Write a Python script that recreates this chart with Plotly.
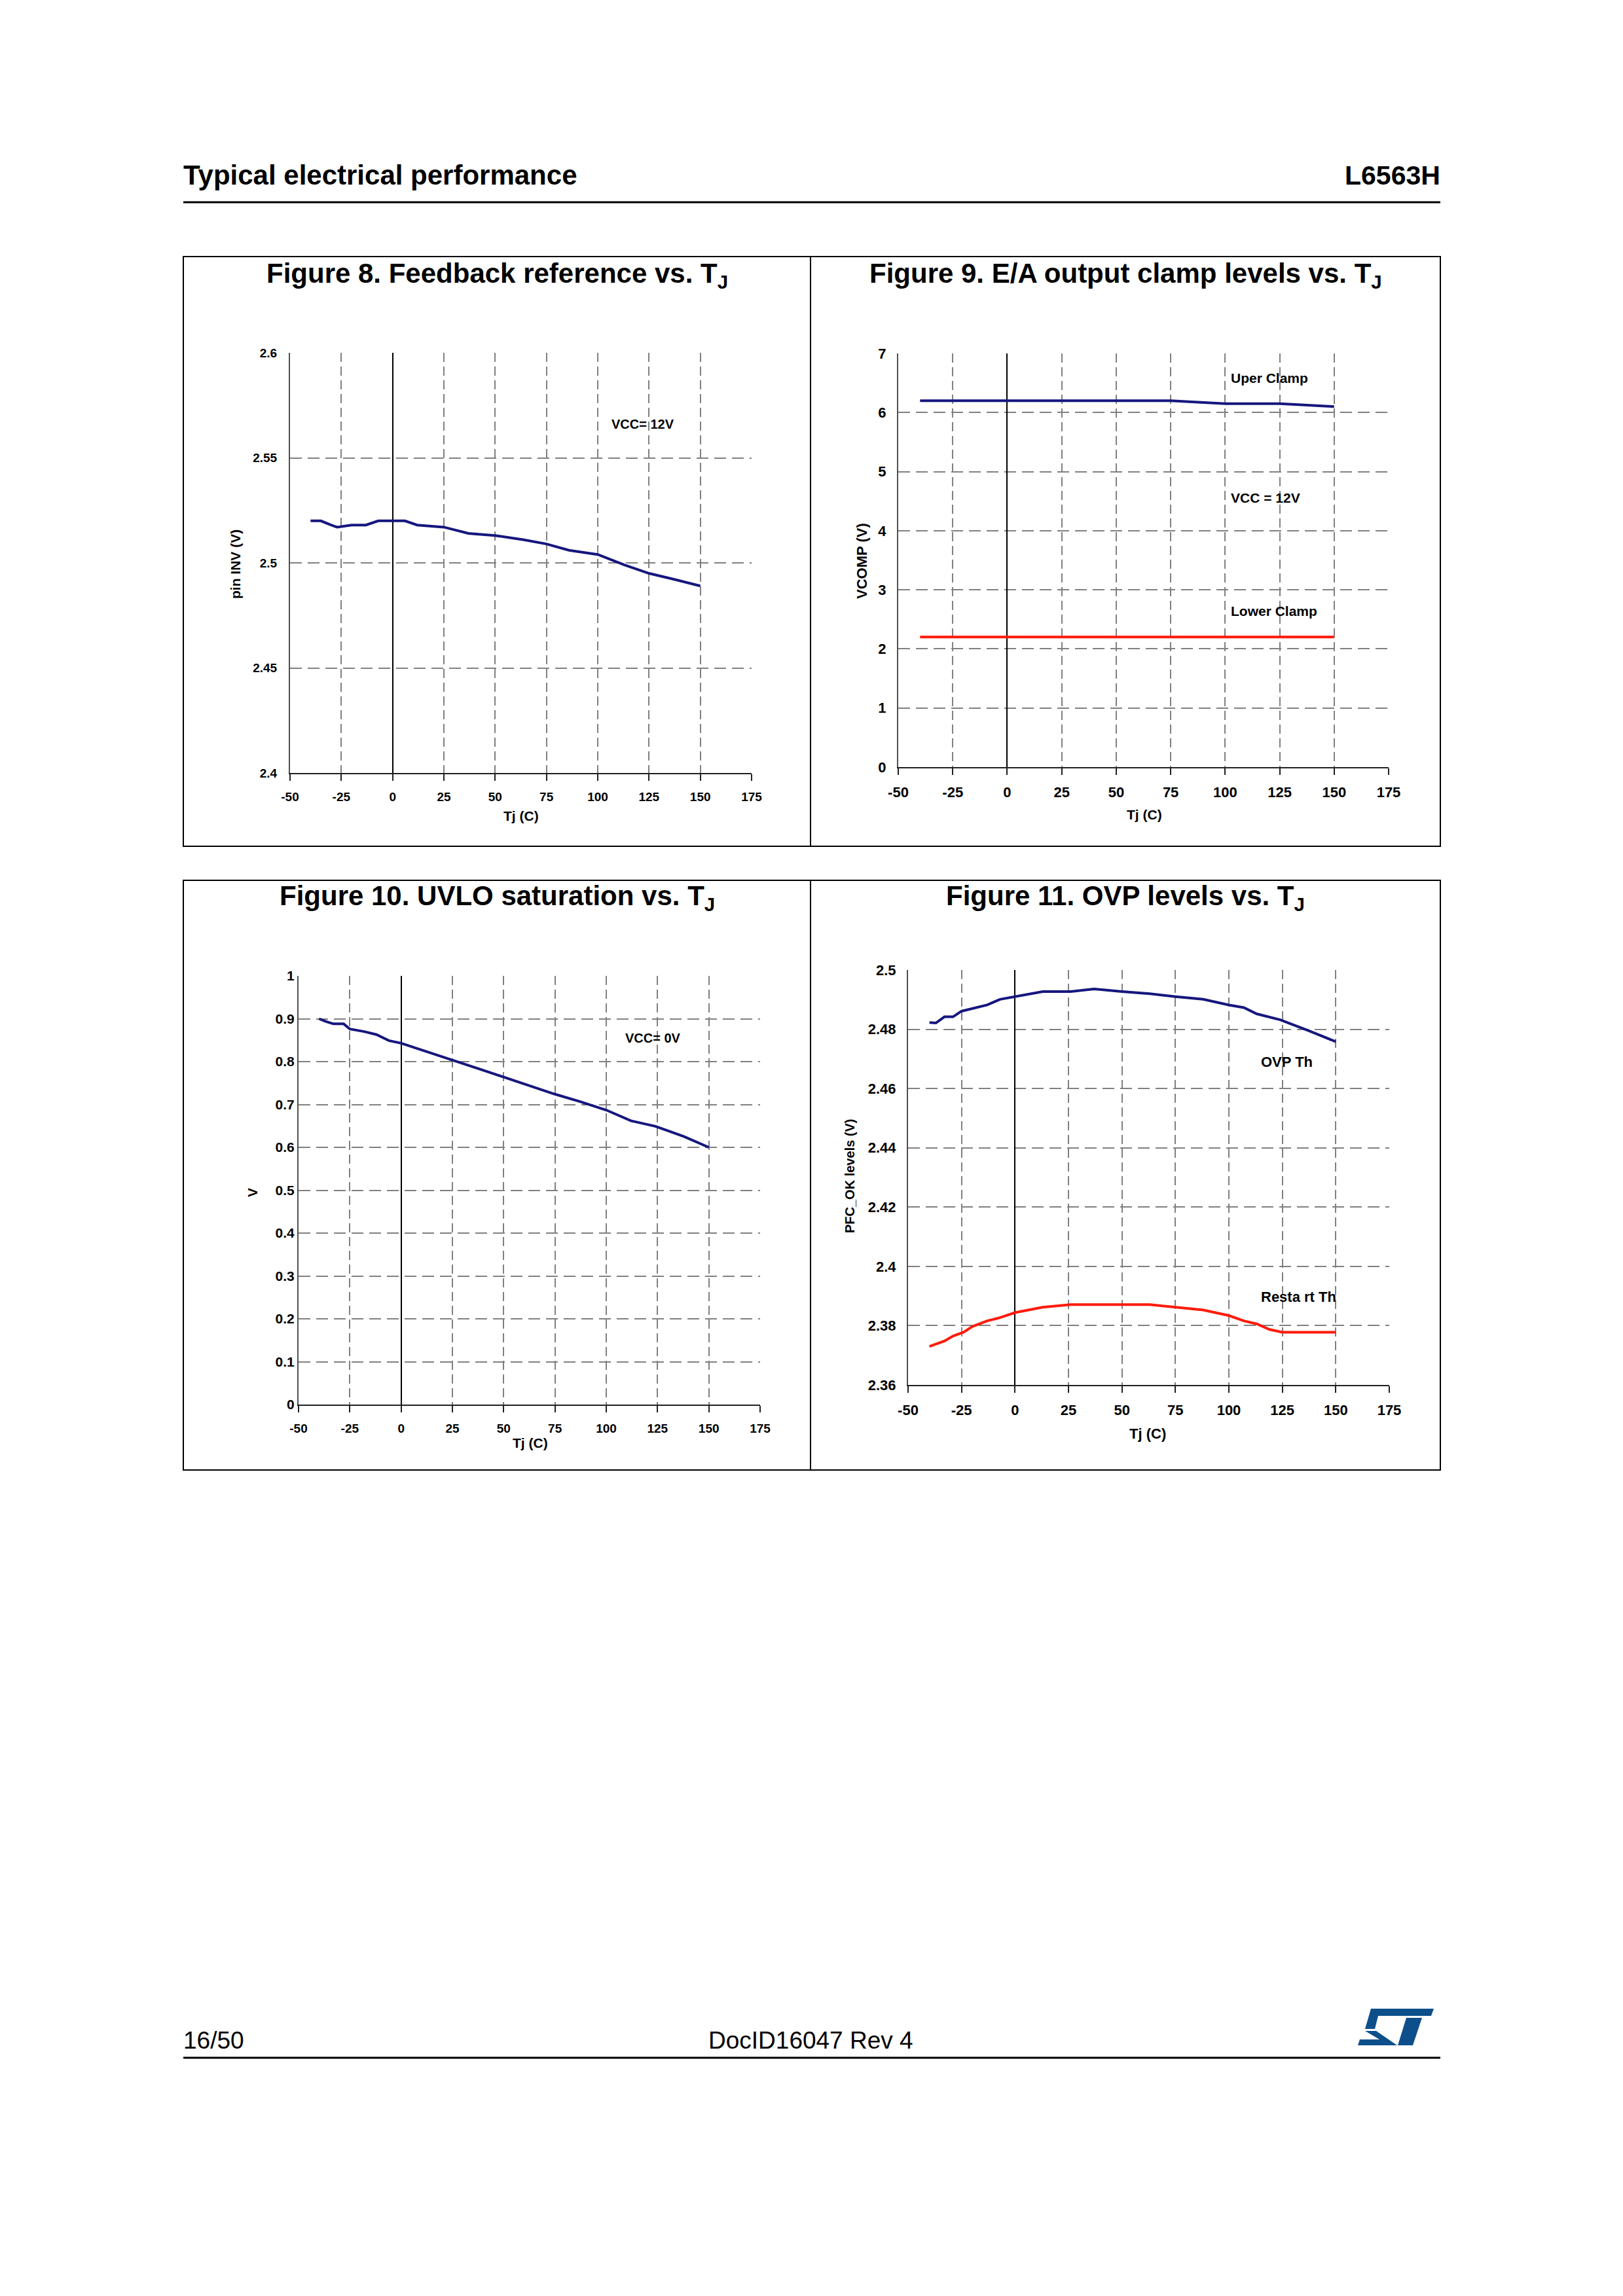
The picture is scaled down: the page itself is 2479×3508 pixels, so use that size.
import plotly.graph_objects as go

W, H = 2479, 3508
OFF = 8  # page body margin of the html page, compensated in all placements

# ---------------- data ----------------
tj8 = [-40, -35, -30, -27, -20, -13, -7, 0, 6, 12, 25, 37, 50, 64, 75, 86, 100, 113, 125, 138, 150]
vinv8 = [2.520, 2.520, 2.518, 2.517, 2.518, 2.518, 2.520, 2.520, 2.520, 2.518, 2.517, 2.514,
         2.513, 2.511, 2.509, 2.506, 2.504, 2.499, 2.495, 2.492, 2.489]

tj9 = [-40, -25, 0, 25, 50, 75, 100, 125, 150]
upper9 = [6.20, 6.20, 6.20, 6.20, 6.20, 6.20, 6.15, 6.15, 6.10]
lower9 = [2.20, 2.20, 2.20, 2.20, 2.20, 2.20, 2.20, 2.20, 2.20]

tj10 = [-40, -37, -33, -28, -25, -18, -12, -6, 0, 11, 25, 38, 50, 64, 75, 87, 100, 112, 124, 138, 150]
uvlo10 = [0.900, 0.894, 0.888, 0.888, 0.876, 0.870, 0.863, 0.849, 0.843, 0.826, 0.804, 0.783,
          0.764, 0.742, 0.724, 0.707, 0.687, 0.662, 0.649, 0.625, 0.600]

tj11_ovp = [-40, -37, -33, -29, -25, -20, -13, -7, 0, 13, 26, 37, 50, 63, 75, 88, 100, 107, 113, 124, 137, 150]
ovp11 = [2.4823, 2.4821, 2.4842, 2.4842, 2.4861, 2.4870, 2.4882, 2.4901, 2.4910, 2.4927, 2.4927,
         2.4936, 2.4927, 2.4920, 2.4910, 2.4901, 2.4882, 2.4873, 2.4852, 2.4832, 2.4796, 2.4758]
tj11_rst = [-40, -33, -29, -24, -20, -13, -7, 0, 13, 26, 63, 75, 88, 100, 107, 113, 119, 125, 150]
rst11 = [2.3730, 2.3748, 2.3765, 2.3778, 2.3797, 2.3816, 2.3827, 2.3844, 2.3862, 2.3871, 2.3871,
         2.3862, 2.3853, 2.3834, 2.3816, 2.3806, 2.3787, 2.3778, 2.3778]

x_ticks = [-50, -25, 0, 25, 50, 75, 100, 125, 150, 175]
x_ticktext = ["-50", "-25", "0", "25", "50", "75", "100", "125", "150", "175"]
y8_ticks = [2.4, 2.45, 2.5, 2.55, 2.6]
y8_text = ["2.4", "2.45", "2.5", "2.55", "2.6"]
y9_ticks = [0, 1, 2, 3, 4, 5, 6, 7]
y9_text = ["0", "1", "2", "3", "4", "5", "6", "7"]
y10_ticks = [0, 0.1, 0.2, 0.3, 0.4, 0.5, 0.6, 0.7, 0.8, 0.9, 1.0]
y10_text = ["0", "0.1", "0.2", "0.3", "0.4", "0.5", "0.6", "0.7", "0.8", "0.9", "1"]
y11_ticks = [2.36, 2.38, 2.40, 2.42, 2.44, 2.46, 2.48, 2.50]
y11_text = ["2.36", "2.38", "2.4", "2.42", "2.44", "2.46", "2.48", "2.5"]

NAVY = "#16167e"
RED = "#ff1a0a"
FONT = "Liberation Sans"


def px(x):
    return (x - OFF) / W


def py(y):
    return 1 - (y - OFF) / H


fig = go.Figure()

fig.add_trace(go.Scatter(x=tj8, y=vinv8, mode="lines", line=dict(color=NAVY, width=4),
                         xaxis="x", yaxis="y", showlegend=False))
fig.add_trace(go.Scatter(x=tj9, y=upper9, mode="lines", line=dict(color=NAVY, width=4),
                         xaxis="x2", yaxis="y2", showlegend=False))
fig.add_trace(go.Scatter(x=tj9, y=lower9, mode="lines", line=dict(color=RED, width=4),
                         xaxis="x2", yaxis="y2", showlegend=False))
fig.add_trace(go.Scatter(x=tj10, y=uvlo10, mode="lines", line=dict(color=NAVY, width=4),
                         xaxis="x3", yaxis="y3", showlegend=False))
fig.add_trace(go.Scatter(x=tj11_ovp, y=ovp11, mode="lines", line=dict(color=NAVY, width=4),
                         xaxis="x4", yaxis="y4", showlegend=False))
fig.add_trace(go.Scatter(x=tj11_rst, y=rst11, mode="lines", line=dict(color=RED, width=4),
                         xaxis="x4", yaxis="y4", showlegend=False))


def xaxis(dom, anchor, fs):
    return dict(domain=[px(dom[0]), px(dom[1])], anchor=anchor, range=[-50, 175],
                tickmode="array", tickvals=x_ticks, ticktext=x_ticktext,
                showline=True, linecolor="#202020", linewidth=2,
                showgrid=True, gridcolor="#808080", gridwidth=2, griddash="14px,7px",
                zeroline=True, zerolinecolor="#000000", zerolinewidth=1.5,
                ticks="outside", ticklen=10, tickwidth=2, tickcolor="#202020",
                ticklabelstandoff=8, automargin=False,
                tickfont=dict(family=FONT, size=fs, color="#000000", weight="bold"))


def yaxis(dom, anchor, rng, tv, tt, fs, standoff=13):
    return dict(domain=[py(dom[1]), py(dom[0])], anchor=anchor, range=rng,
                tickmode="array", tickvals=tv, ticktext=tt,
                showline=True, linecolor="#505050", linewidth=2,
                showgrid=True, gridcolor="#808080", gridwidth=2, griddash="18px,9px",
                zeroline=False, ticks="",
                ticklabelstandoff=standoff, automargin=False,
                tickfont=dict(family=FONT, size=fs, color="#000000", weight="bold"))


# plot-area pixel boxes: (left, right), (top, bottom)
fig.update_layout(
    xaxis=xaxis((443, 1148), "y", 19),
    yaxis=yaxis((539, 1181), "x", [2.4, 2.6], y8_ticks, y8_text, 19, standoff=14),
    xaxis2=xaxis((1372, 2121), "y2", 22),
    yaxis2=yaxis((540, 1172), "x2", [0, 7], y9_ticks, y9_text, 22, standoff=12),
    xaxis3=xaxis((456, 1161), "y3", 19),
    yaxis3=yaxis((1491, 2146), "x3", [0, 1], y10_ticks, y10_text, 21, standoff=0),
    xaxis4=xaxis((1387, 2122), "y4", 22),
    yaxis4=yaxis((1482, 2116), "x4", [2.36, 2.5], y11_ticks, y11_text, 22, standoff=12),
)

ann = []


def text(x, y, s, size, bold=True, xanchor="center", angle=0, xref="paper", yref="paper"):
    ann.append(dict(x=x, y=y, xref=xref, yref=yref, text=s, showarrow=False,
                    xanchor=xanchor, yanchor="middle", textangle=angle,
                    font=dict(family=FONT, size=size, color="#000000",
                              weight="bold" if bold else "normal")))


# page header / footer
text(px(278), py(268), "Typical electrical performance", 42, xanchor="left")
text(px(2202), py(268), "L6563H", 41, xanchor="right")
text(px(278), py(3117), "16/50", 37, bold=False, xanchor="left")
text(px(1238), py(3117), "DocID16047 Rev 4", 37, bold=False)

# figure titles
text(px(759), py(420), "Figure 8. Feedback reference vs. T<sub>J</sub>", 42)
text(px(1719), py(420), "Figure 9. E/A output clamp levels vs. T<sub>J</sub>", 42)
text(px(759), py(1371), "Figure 10. UVLO saturation vs. T<sub>J</sub>", 42)
text(px(1719), py(1371), "Figure 11. OVP levels vs. T<sub>J</sub>", 42)

# axis titles
text(px(359), py(862), "pin INV (V)", 21, angle=-90)
text(px(796), py(1247), "Tj (C)", 21)
text(px(1317), py(857), "VCOMP (V)", 22, angle=-90)
text(px(1748), py(1244), "Tj (C)", 21)
text(px(385), py(1822), "V", 21, angle=-90)
text(px(810), py(2204), "Tj (C)", 21)
text(px(1298), py(1797), "PFC_OK levels (V)", 20, angle=-90)
text(px(1753), py(2190), "Tj (C)", 22)

# in-plot labels (data coordinates)
text(106, 2.566, "VCC= 12V", 20, xanchor="left", xref="x", yref="y")
text(102, 6.58, "Uper Clamp", 21, xanchor="left", xref="x2", yref="y2")
text(102, 4.56, "VCC = 12V", 21, xanchor="left", xref="x2", yref="y2")
text(102, 2.64, "Lower Clamp", 21, xanchor="left", xref="x2", yref="y2")
text(108.5, 0.855, "VCC= 0V", 20, xanchor="left", xref="x3", yref="y3")
text(114.5, 2.469, "OVP Th", 22, xanchor="left", xref="x4", yref="y4")
text(114.5, 2.3898, "Resta rt Th", 22, xanchor="left", xref="x4", yref="y4")

shapes = []


def rect(x0, y0, x1, y1):
    shapes.append(dict(type="rect", xref="paper", yref="paper", x0=px(x0), x1=px(x1),
                       y0=py(y1), y1=py(y0), line=dict(color="#000000", width=2),
                       fillcolor="rgba(0,0,0,0)", layer="above"))


def hline(x0, x1, y, w):
    shapes.append(dict(type="line", xref="paper", yref="paper", x0=px(x0), x1=px(x1),
                       y0=py(y), y1=py(y), line=dict(color="#000000", width=w)))


rect(280, 392, 1238, 1293)
rect(1238, 392, 2200, 1293)
rect(280, 1345, 1238, 2246)
rect(1238, 1345, 2200, 2246)
hline(280, 2200, 309, 3)
hline(280, 2200, 3144, 3)


def poly(points, ox, oy, color):
    d = "M " + " L ".join(f"{px(ox + a):.6f},{py(oy + b):.6f}" for a, b in points) + " Z"
    shapes.append(dict(type="path", xref="paper", yref="paper", path=d,
                       fillcolor=color, line=dict(width=0)))


# ST logo (approximation)
LOGO = "#0d4f8b"
poly([(34, 9), (130, 9), (126, 20), (45, 20), (40, 40), (25, 40)], 2060, 3060, LOGO)
poly([(25, 43), (42, 43), (74, 65), (14, 65), (17, 56), (47, 56)], 2060, 3060, LOGO)
poly([(88, 23), (112, 23), (98, 65), (75, 65)], 2060, 3060, LOGO)

fig.update_layout(
    width=W, height=H, autosize=False,
    margin=dict(l=0, r=0, t=0, b=0, pad=0, autoexpand=False),
    paper_bgcolor="white", plot_bgcolor="white",
    annotations=ann, shapes=shapes, showlegend=False,
)

fig.write_html("out.html")
